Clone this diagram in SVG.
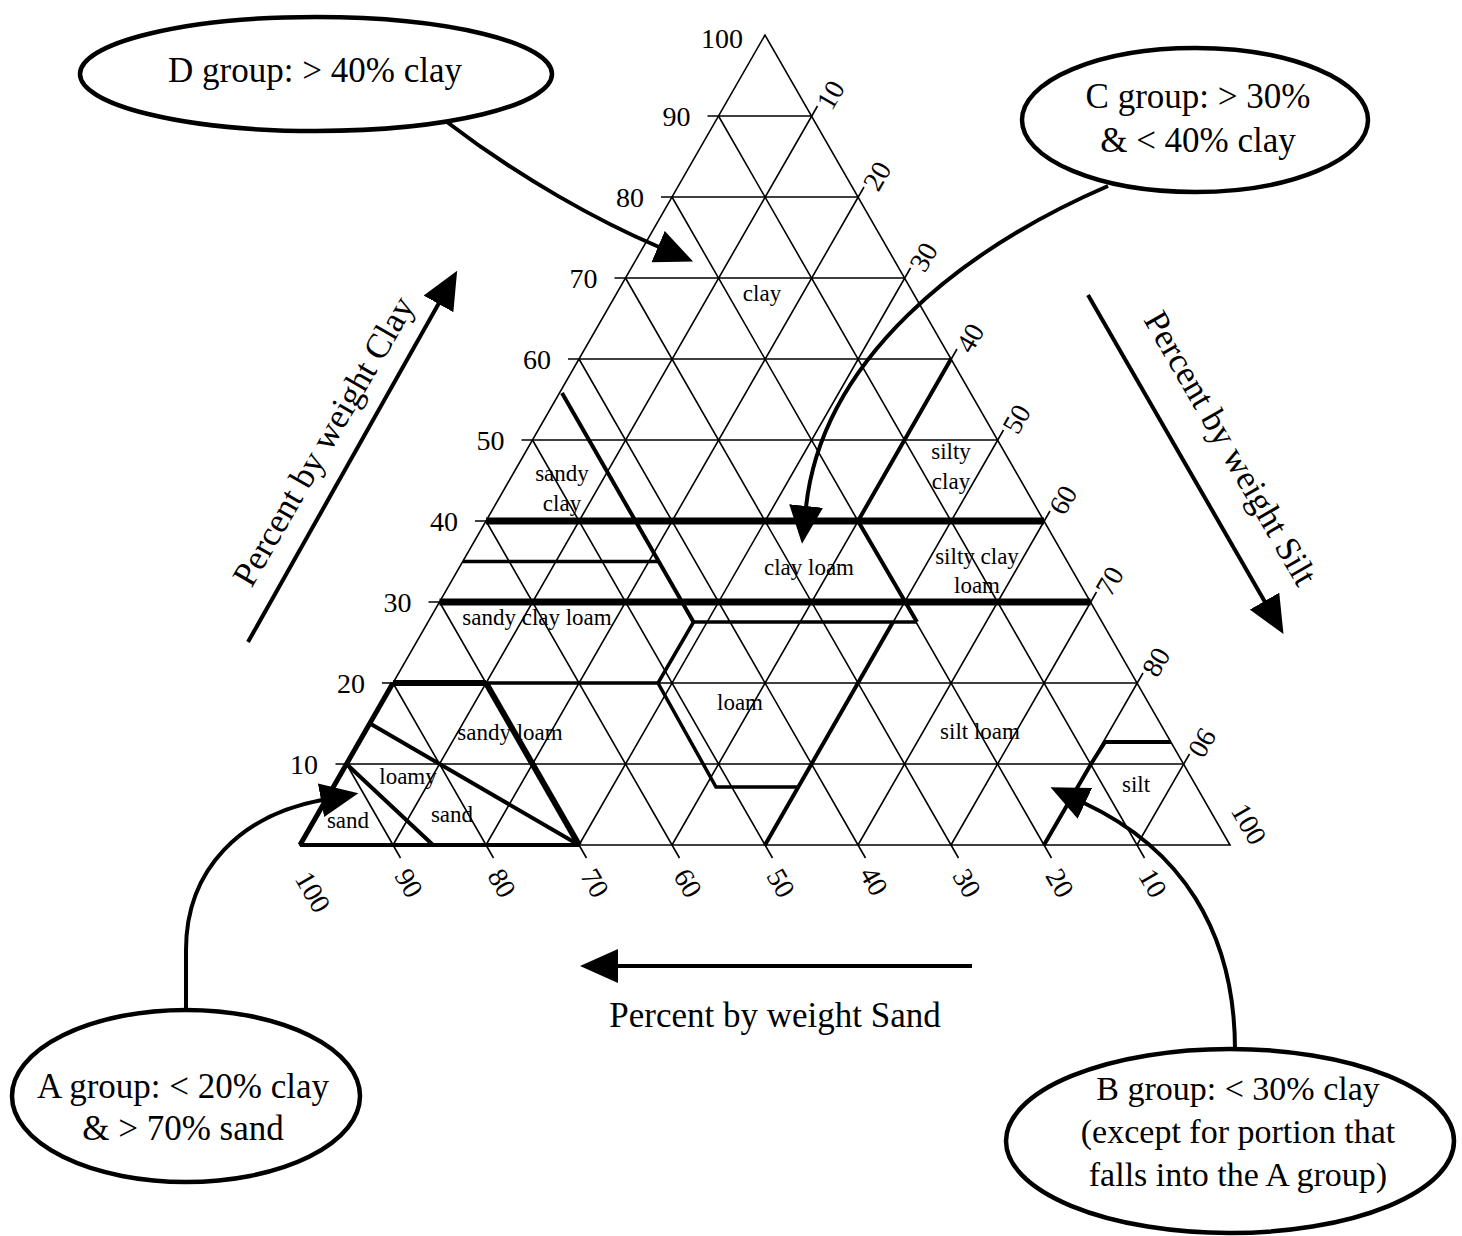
<svg xmlns="http://www.w3.org/2000/svg" width="1462" height="1236" viewBox="0 0 1462 1236">
<style>
.g{stroke:#000;stroke-width:1.6;fill:none}
.k{stroke:#000;fill:none;stroke-linejoin:miter;stroke-linecap:butt}
.w3{stroke-width:3.5}.w4{stroke-width:4}.w5{stroke-width:5}.w6{stroke-width:6}.w7{stroke-width:7}
.num{font-family:"Liberation Serif","Times New Roman",serif;font-size:28px;fill:#000}
.lbl{font-family:"Liberation Serif","Times New Roman",serif;font-size:23px;fill:#000;text-anchor:middle}
.big{font-family:"Liberation Serif","Times New Roman",serif;font-size:35px;fill:#000;text-anchor:middle}
.ell{fill:#fff;stroke:#000;stroke-width:4.5}
.con{stroke:#000;stroke-width:4;fill:none}
</style>
<defs>
<marker id="ah" viewBox="0 0 38 34" refX="1" refY="17" markerWidth="38" markerHeight="34" markerUnits="userSpaceOnUse" orient="auto">
<path d="M0,0 L38,17 L0,34 Z" fill="#000"/>
</marker>
</defs>
<rect width="1462" height="1236" fill="#fff"/>

<g id="triangle-grid">
<path class="g" d="M300,845 L765,35 L1230,845 Z"/>
<path class="g" d="M335.5,764 H1183.5 M382,683 H1137 M428.5,602 H1090.5 M475,521 H1044 M521.5,440 H997.5 M568,359 H951 M614.5,278 H904.5 M661,197 H858 M707.5,116 H811.5"/>
<path class="g" d="M1144.5,858 L718.5,116 M1051.5,858 L672,197 M958.5,858 L625.5,278 M865.5,858 L579,359 M772.5,858 L532.5,440 M679.5,858 L486,521 M586.5,858 L439.5,602 M493.5,858 L393,683 M400.5,858 L346.5,764"/>
<path class="g" d="M393,845 L817.5,106 M486,845 L864,187 M579,845 L910.5,268 M672,845 L957,349 M765,845 L1003.5,430 M858,845 L1050,511 M951,845 L1096.5,592 M1044,845 L1143,673 M1137,845 L1189.5,754"/>
</g>

<g id="class-boundaries">
<path class="k w7" d="M486,521 H1044"/>
<path class="k w7" d="M439.5,602 H1090.5"/>
<path class="k w4" d="M562,393 L693.5,622"/>
<path class="k w3" d="M463,561.5 H658.5"/>
<path class="k w3" d="M693.5,622 H917"/>
<path class="k w3" d="M693.5,622 L658,683 L716,787 H799"/>
<path class="k w3" d="M486,683 H658"/>
<path class="k w6" d="M393,683 H486"/>
<path class="k w6" d="M486,683 L579,845"/>
<path class="k w5" d="M300,845 L393,683"/>
<path class="k w4" d="M300,845 H579"/>
<path class="k w4" d="M765,845 L893,622"/>
<path class="k w4" d="M951,359 L858,521 L917,622"/>
<path class="k w4" d="M370,723.5 L579,845"/>
<path class="k w4" d="M346.5,764 L433,845"/>
<path class="k w4" d="M1044,845 L1091,764 L1105,742 H1171"/>
</g>

<g id="clay-axis-labels" class="num" text-anchor="end">
<text x="318" y="774">10</text>
<text x="365" y="693">20</text>
<text x="411.5" y="612">30</text>
<text x="458" y="531">40</text>
<text x="504.5" y="450">50</text>
<text x="551" y="369">60</text>
<text x="597.5" y="288">70</text>
<text x="644" y="207">80</text>
<text x="690.5" y="126">90</text>
<text x="743" y="48">100</text>
</g>

<g id="silt-axis-labels" class="num" text-anchor="middle">
<text x="830.5" y="95" dominant-baseline="central" transform="rotate(-60 830.5 95)">10</text>
<text x="877" y="176" dominant-baseline="central" transform="rotate(-60 877 176)">20</text>
<text x="923.5" y="257" dominant-baseline="central" transform="rotate(-60 923.5 257)">30</text>
<text x="970" y="338" dominant-baseline="central" transform="rotate(-60 970 338)">40</text>
<text x="1016.5" y="419" dominant-baseline="central" transform="rotate(-60 1016.5 419)">50</text>
<text x="1063" y="500" dominant-baseline="central" transform="rotate(-60 1063 500)">60</text>
<text x="1109.5" y="581" dominant-baseline="central" transform="rotate(-60 1109.5 581)">70</text>
<text x="1156" y="662" dominant-baseline="central" transform="rotate(-60 1156 662)">80</text>
<text x="1202.5" y="743" dominant-baseline="central" transform="rotate(120 1202.5 743)">90</text>
<text x="1249" y="824" dominant-baseline="central" transform="rotate(60 1249 824)">100</text>
</g>

<g id="sand-axis-labels" class="num" text-anchor="middle">
<text x="313" y="892" dominant-baseline="central" transform="rotate(60 313 892)">100</text>
<text x="409" y="883" dominant-baseline="central" transform="rotate(60 409 883)">90</text>
<text x="502" y="883" dominant-baseline="central" transform="rotate(60 502 883)">80</text>
<text x="595" y="883" dominant-baseline="central" transform="rotate(60 595 883)">70</text>
<text x="688" y="883" dominant-baseline="central" transform="rotate(60 688 883)">60</text>
<text x="781" y="883" dominant-baseline="central" transform="rotate(60 781 883)">50</text>
<text x="874" y="881" dominant-baseline="central" transform="rotate(60 874 881)">40</text>
<text x="967" y="883" dominant-baseline="central" transform="rotate(60 967 883)">30</text>
<text x="1060" y="883" dominant-baseline="central" transform="rotate(60 1060 883)">20</text>
<text x="1153" y="883" dominant-baseline="central" transform="rotate(60 1153 883)">10</text>
</g>

<g id="region-labels" class="lbl">
<text x="762" y="301">clay</text>
<text x="562" y="481">sandy</text>
<text x="562" y="511">clay</text>
<text x="951" y="459">silty</text>
<text x="951" y="489">clay</text>
<text x="809" y="575">clay loam</text>
<text x="977" y="564">silty clay</text>
<text x="977" y="593">loam</text>
<text x="537" y="625">sandy clay loam</text>
<text x="740" y="710">loam</text>
<text x="510" y="740">sandy loam</text>
<text x="980" y="739">silt loam</text>
<text x="408" y="784">loamy</text>
<text x="348" y="828">sand</text>
<text x="452" y="822">sand</text>
<text x="1136" y="792">silt</text>
</g>

<g id="axis-titles">
<path class="con" d="M248,642 L439,303" marker-end="url(#ah)"/>
<text class="big" transform="translate(323,441) rotate(-60)" x="0" y="12">Percent by weight Clay</text>
<path class="con" d="M1088,295 L1265,602" marker-end="url(#ah)"/>
<text class="big" transform="translate(1231,448) rotate(60)" x="0" y="12">Percent by weight Silt</text>
<path class="con" d="M972,966 L617,966" marker-end="url(#ah)"/>
<text class="big" x="775" y="1027">Percent by weight Sand</text>
</g>

<g id="connectors">
<path class="con" d="M447,122 C520,178 600,222 659,247" marker-end="url(#ah)"/>
<path class="con" d="M1108,186 C960,250 822,360 806,507" marker-end="url(#ah)"/>
<path class="con" d="M186,1010 L186,950 C186,868 242,815 322,800" marker-end="url(#ah)"/>
<path class="con" d="M1235,1050 C1235,930 1180,848 1084,803" marker-end="url(#ah)"/>
</g>

<g id="node-D">
<ellipse class="ell" cx="316" cy="74" rx="236" ry="57"/>
<text class="big" x="315" y="82">D group: &gt; 40% clay</text>
</g>
<g id="node-C">
<ellipse class="ell" cx="1195" cy="120" rx="173" ry="72"/>
<text class="big" x="1198" y="108">C group: &gt; 30%</text>
<text class="big" x="1198" y="152">&amp; &lt; 40% clay</text>
</g>
<g id="node-A">
<ellipse class="ell" cx="186" cy="1096" rx="174" ry="86"/>
<text class="big" x="183" y="1098">A group: &lt; 20% clay</text>
<text class="big" x="183" y="1140">&amp; &gt; 70% sand</text>
</g>
<g id="node-B">
<ellipse class="ell" cx="1230" cy="1141" rx="224" ry="92"/>
<text class="big" x="1238" y="1100" style="font-size:34px">B group: &lt; 30% clay</text>
<text class="big" x="1238" y="1143" style="font-size:34px">(except for portion that</text>
<text class="big" x="1238" y="1186" style="font-size:34px">falls into the A group)</text>
</g>
</svg>
